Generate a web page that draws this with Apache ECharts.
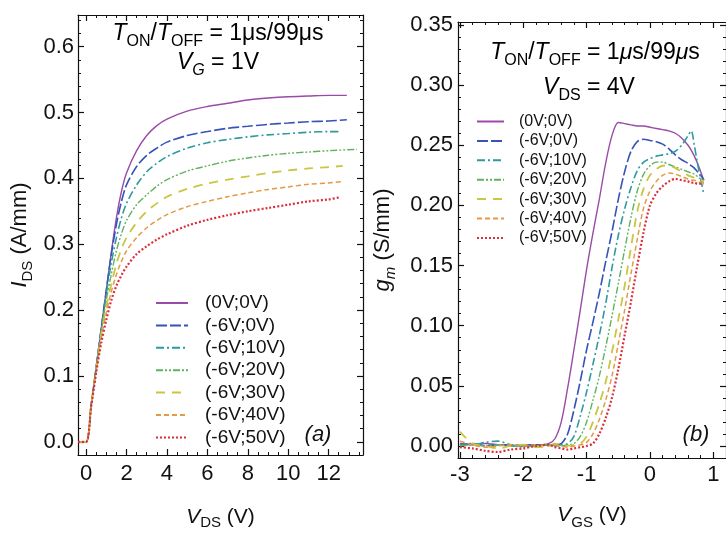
<!DOCTYPE html>
<html>
<head>
<meta charset="utf-8">
<script src="https://cdn.jsdelivr.net/npm/echarts/dist/echarts.min.js"></script>
<style>html,body{margin:0;padding:0;background:#fff;}#c{width:726px;height:535px;}</style>
</head>
<body>
<div id="c"></div>
<script>
// ---------- DATA ----------
const seriesNames = ['(0V;0V)', '(-6V;0V)', '(-6V;10V)', '(-6V;20V)', '(-6V;30V)', '(-6V;40V)', '(-6V;50V)'];

// Panel (a): output characteristics, I_DS (A/mm) vs V_DS (V)
const vdsGrid = [-0.4, 0, 0.25, 0.5, 0.75, 1, 1.25, 1.5, 1.75, 2, 2.5, 3, 3.5, 4, 5, 6, 7, 8, 9, 10, 11, 12];
const vdsEnd = [12.9, 12.9, 12.6, 13.4, 12.7, 12.7, 12.5];
const ids_0V_0V   = [0, 0, 0.055, 0.113, 0.172, 0.230, 0.288, 0.340, 0.380, 0.408, 0.442, 0.465, 0.480, 0.490, 0.502, 0.509, 0.514, 0.519, 0.522, 0.524, 0.525, 0.526, 0.526];
const ids_m6V_0V  = [0, 0, 0.055, 0.113, 0.172, 0.230, 0.285, 0.330, 0.365, 0.390, 0.418, 0.435, 0.446, 0.455, 0.465, 0.471, 0.476, 0.479, 0.482, 0.484, 0.486, 0.487, 0.489];
const ids_m6V_10V = [0, 0, 0.055, 0.113, 0.170, 0.225, 0.272, 0.310, 0.340, 0.362, 0.390, 0.410, 0.423, 0.433, 0.446, 0.454, 0.459, 0.463, 0.466, 0.468, 0.470, 0.471, 0.471];
const ids_m6V_20V = [0, 0, 0.055, 0.112, 0.168, 0.215, 0.255, 0.290, 0.316, 0.336, 0.360, 0.375, 0.388, 0.398, 0.411, 0.419, 0.426, 0.431, 0.435, 0.438, 0.440, 0.442, 0.444];
const ids_m6V_30V = [0, 0, 0.055, 0.110, 0.163, 0.205, 0.240, 0.270, 0.293, 0.310, 0.333, 0.350, 0.362, 0.372, 0.384, 0.392, 0.398, 0.403, 0.408, 0.412, 0.415, 0.417, 0.419];
const ids_m6V_40V = [0, 0, 0.054, 0.108, 0.158, 0.196, 0.228, 0.254, 0.274, 0.290, 0.310, 0.325, 0.336, 0.345, 0.357, 0.365, 0.372, 0.378, 0.383, 0.387, 0.391, 0.393, 0.395];
const ids_m6V_50V = [0, 0, 0.053, 0.105, 0.150, 0.185, 0.215, 0.237, 0.253, 0.266, 0.285, 0.297, 0.307, 0.315, 0.328, 0.337, 0.344, 0.350, 0.355, 0.360, 0.365, 0.368, 0.371];

// Panel (b): transconductance g_m (S/mm) vs V_GS (V)
const vgsGrid = [-3, -2.8, -2.6, -2.4, -2.2, -2.0, -1.8, -1.6, -1.5, -1.4, -1.3, -1.2, -1.1, -1.0, -0.9, -0.8, -0.7, -0.6, -0.5, -0.4, -0.3, -0.2, -0.1, 0, 0.1, 0.2, 0.3, 0.4, 0.5, 0.6, 0.65, 0.7, 0.75, 0.8, 0.85];
const gm_0V_0V   = [0.002, 0.001, 0.002, 0.001, 0.000, 0.001, 0.001, 0.002, 0.006, 0.020, 0.048, 0.080, 0.113, 0.147, 0.177, 0.205, 0.235, 0.258, 0.269, 0.268, 0.267, 0.266, 0.266, 0.265, 0.264, 0.263, 0.262, 0.260, 0.256, 0.250, 0.246, 0.241, 0.235, 0.228, 0.221];
const gm_m6V_0V  = [0.001, 0.002, 0.000, 0.001, 0.001, 0.000, 0.001, 0.001, 0.001, 0.002, 0.010, 0.030, 0.054, 0.080, 0.103, 0.127, 0.153, 0.178, 0.205, 0.228, 0.245, 0.253, 0.255, 0.254, 0.253, 0.251, 0.247, 0.242, 0.238, 0.235, 0.233, 0.231, 0.228, 0.225, 0.221];
const gm_m6V_10V = [0.001, 0.001, 0.003, 0.004, 0.001, 0.000, 0.000, 0.001, 0.000, 0.001, 0.002, 0.008, 0.025, 0.045, 0.068, 0.092, 0.118, 0.148, 0.175, 0.197, 0.215, 0.229, 0.236, 0.239, 0.241, 0.242, 0.243, 0.245, 0.250, 0.258, 0.262, 0.250, 0.235, 0.222, 0.209];
const gm_m6V_20V = [0.000, 0.001, 0.000, 0.001, 0.000, -0.001, 0.000, 0.001, 0.000, 0.000, 0.001, 0.002, 0.008, 0.020, 0.038, 0.058, 0.082, 0.108, 0.135, 0.163, 0.190, 0.212, 0.226, 0.233, 0.236, 0.236, 0.234, 0.232, 0.230, 0.228, 0.227, 0.226, 0.224, 0.222, 0.221];
const gm_m6V_30V = [0.012, 0.002, 0.000, -0.002, 0.000, 0.001, -0.001, 0.000, 0.002, 0.001, 0.000, 0.001, 0.002, 0.008, 0.020, 0.035, 0.053, 0.078, 0.105, 0.133, 0.165, 0.195, 0.214, 0.225, 0.230, 0.233, 0.233, 0.231, 0.228, 0.225, 0.224, 0.223, 0.222, 0.221, 0.220];
const gm_m6V_40V = [0.004, 0.001, -0.001, 0.000, 0.001, 0.000, 0.001, 0.000, 0.001, 0.000, -0.001, 0.000, 0.001, 0.003, 0.010, 0.022, 0.038, 0.058, 0.085, 0.113, 0.143, 0.172, 0.198, 0.212, 0.220, 0.225, 0.227, 0.226, 0.224, 0.222, 0.221, 0.221, 0.220, 0.219, 0.219];
const gm_m6V_50V = [-0.001, -0.002, -0.004, -0.005, -0.003, -0.002, 0.000, 0.001, -0.001, -0.002, -0.003, -0.002, -0.001, 0.000, 0.002, 0.010, 0.023, 0.040, 0.064, 0.092, 0.120, 0.150, 0.178, 0.200, 0.210, 0.216, 0.220, 0.222, 0.221, 0.220, 0.219, 0.219, 0.218, 0.218, 0.218];

// Tick values
const aXTicks = [0, 2, 4, 6, 8, 10, 12];
const aYTicks = [0, 0.1, 0.2, 0.3, 0.4, 0.5, 0.6];
const bXTicks = [-3, -2, -1, 0, 1];
const bYTicks = [0, 0.05, 0.10, 0.15, 0.20, 0.25, 0.30, 0.35];

// ---------- STYLE ----------
const idsSets = [ids_0V_0V, ids_m6V_0V, ids_m6V_10V, ids_m6V_20V, ids_m6V_30V, ids_m6V_40V, ids_m6V_50V];
const gmSets = [gm_0V_0V, gm_m6V_0V, gm_m6V_10V, gm_m6V_20V, gm_m6V_30V, gm_m6V_40V, gm_m6V_50V];
const colors = ['#9a4aa8', '#3553b8', '#2f9a9e', '#5fb35f', '#c9c640', '#e39a45', '#d9303a'];
const dashes = ['solid', [11, 3], [8, 3, 2, 3], [7, 2, 2, 2, 2, 2], [9, 7], [5, 3], [2, 2]];
const widths = [1.4, 1.6, 1.6, 1.4, 1.8, 1.5, 2.2];
const FONT = '"Liberation Sans", Arial, sans-serif';
const BLACK = '#111';

function range(a, b, s) { const r = []; for (let v = a; v <= b + 1e-9; v += s) r.push(+v.toFixed(4)); return r; }

function axisSet(dim, grid, min, max, majors, minors, labelOpt, nameOpt) {
  const posA = dim === 'x' ? 'bottom' : 'left';
  const posB = dim === 'x' ? 'top' : 'right';
  const base = { type: 'value', gridIndex: grid, min: min, max: max, splitLine: { show: false } };
  const line = { show: true, onZero: false, lineStyle: { color: BLACK, width: 1.2 } };
  const out = [];
  out.push(Object.assign({}, base, nameOpt || {}, {
    position: posA, axisLine: line,
    axisTick: { show: true, inside: true, length: 6, customValues: majors, lineStyle: { color: BLACK, width: 1.2 } },
    axisLabel: Object.assign({ show: true, customValues: majors, color: BLACK, fontFamily: FONT }, labelOpt)
  }));
  out.push(Object.assign({}, base, {
    position: posA, axisLine: { show: false, onZero: false },
    axisTick: { show: true, inside: true, length: 3, customValues: minors, lineStyle: { color: BLACK, width: 1 } },
    axisLabel: { show: false }
  }));
  out.push(Object.assign({}, base, {
    position: posB, axisLine: line,
    axisTick: { show: true, inside: true, length: 6, customValues: majors, lineStyle: { color: BLACK, width: 1.2 } },
    axisLabel: { show: false }
  }));
  out.push(Object.assign({}, base, {
    position: posB, axisLine: { show: false, onZero: false },
    axisTick: { show: true, inside: true, length: 3, customValues: minors, lineStyle: { color: BLACK, width: 1 } },
    axisLabel: { show: false }
  }));
  return out;
}

const nameRich = (size, lh) => ({
  it: { fontStyle: 'italic', fontSize: size, fontFamily: FONT, color: BLACK, lineHeight: lh || size + 8, verticalAlign: 'middle' },
  sub: { fontSize: Math.round(size * 0.7), fontFamily: FONT, color: BLACK, verticalAlign: 'bottom', lineHeight: Math.round(size * 0.7) },
  isub: { fontStyle: 'italic', fontSize: Math.round(size * 0.7), fontFamily: FONT, color: BLACK, verticalAlign: 'bottom', lineHeight: Math.round(size * 0.7) },
  n: { fontSize: size, fontFamily: FONT, color: BLACK, verticalAlign: 'middle' }
});

const xAxes = [].concat(
  axisSet('x', 0, -0.4, 13.7, aXTicks, range(0, 13.5, 0.5), { fontSize: 22, margin: 8 },
    { name: '{it|V}{sub|DS}{n| (V)}', nameLocation: 'middle', nameGap: 50, nameTextStyle: { rich: nameRich(21, 25) } }),
  axisSet('x', 1, -3.03, 1.2, bXTicks, range(-3, 1.2, 0.2), { fontSize: 22, margin: 6 },
    { name: '{it|V}{sub|GS}{n| (V)}', nameLocation: 'middle', nameGap: 43, nameTextStyle: { rich: nameRich(21) } })
);
const yAxes = [].concat(
  axisSet('y', 0, -0.02, 0.648, aYTicks, range(0, 0.64, 0.02), { fontSize: 22, margin: 4, formatter: v => v.toFixed(1) },
    { name: '{it|I}{sub|DS}{n| (A/mm)}', nameLocation: 'middle', nameRotate: 90, nameGap: 43, nameTextStyle: { rich: nameRich(22) } }),
  axisSet('y', 1, -0.01, 0.3525, bYTicks, range(0, 0.35, 0.01), { fontSize: 22, margin: 5, formatter: v => v.toFixed(2) },
    { name: '{it|g}{isub|m}{n| (S/mm)}', nameLocation: 'middle', nameRotate: 90, nameGap: 60, nameTextStyle: { rich: nameRich(22) } })
);

const series = [];
seriesNames.forEach((nm, i) => {
  const xs = vdsGrid.concat([vdsEnd[i]]);
  series.push({
    name: nm, type: 'line', xAxisIndex: 0, yAxisIndex: 0, symbol: 'none', smooth: 0.3,
    data: xs.map((x, k) => [x, idsSets[i][k]]),
    lineStyle: { color: colors[i], width: widths[i], type: dashes[i] }, itemStyle: { color: colors[i] }, z: 2 + i
  });
});
seriesNames.forEach((nm, i) => {
  series.push({
    name: nm, type: 'line', xAxisIndex: 4, yAxisIndex: 4, symbol: 'none', smooth: 0.3,
    data: vgsGrid.map((x, k) => [x, gmSets[i][k]]),
    lineStyle: { color: colors[i], width: widths[i], type: dashes[i] }, itemStyle: { color: colors[i] }, z: 2 + i
  });
});

const titleRich = nameRich(23);

const option = {
  animation: false,
  backgroundColor: '#fff',
  grid: [
    { left: 78, top: 15, width: 285, height: 457 },
    { left: 458, top: 22, width: 278, height: 443 }
  ],
  xAxis: xAxes,
  yAxis: yAxes,
  legend: [
    { data: seriesNames, orient: 'vertical', left: 150, top: 288, itemWidth: 32, itemHeight: 12, itemGap: 2.4,
      selectedMode: false, itemStyle: { opacity: 0, borderWidth: 0 },
      textStyle: { fontSize: 19, lineHeight: 20, fontFamily: FONT, color: BLACK, padding: [0, 0, 0, 12] } },
    { data: seriesNames, orient: 'vertical', left: 471, top: 108, itemWidth: 27, itemHeight: 10, itemGap: 2.4,
      selectedMode: false, itemStyle: { opacity: 0, borderWidth: 0 },
      textStyle: { fontSize: 16, lineHeight: 17, fontFamily: FONT, color: BLACK, padding: [0, 0, 0, 10] } }
  ],
  graphic: [
    { type: 'text', x: 218, y: 34, style: { text: '{it|T}{sub|ON}{n|/}{it|T}{sub|OFF}{n| = 1μs/99μs}', rich: titleRich, align: 'center', verticalAlign: 'middle' } },
    { type: 'text', x: 218, y: 63, style: { text: '{it|V}{isub|G}{n| = 1V}', rich: titleRich, align: 'center', verticalAlign: 'middle' } },
    { type: 'text', x: 595, y: 53, style: { text: '{it|T}{sub|ON}{n|/}{it|T}{sub|OFF}{n| = 1}{it|μ}{n|s/99}{it|μ}{n|s}', rich: titleRich, align: 'center', verticalAlign: 'middle' } },
    { type: 'text', x: 589, y: 88, style: { text: '{it|V}{sub|DS}{n| = 4V}', rich: titleRich, align: 'center', verticalAlign: 'middle' } },
    { type: 'text', x: 318, y: 435, style: { text: '(a)', font: 'italic 22px ' + FONT, fill: BLACK, align: 'center', verticalAlign: 'middle' } },
    { type: 'text', x: 696, y: 435, style: { text: '(b)', font: 'italic 22px ' + FONT, fill: BLACK, align: 'center', verticalAlign: 'middle' } }
  ],
  series: series
};

const chart = echarts.init(document.getElementById('c'), null, { renderer: 'canvas' });
chart.setOption(option);
</script>
</body>
</html>
